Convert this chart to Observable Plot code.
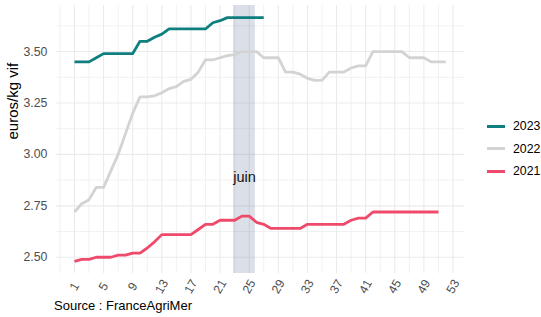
<!DOCTYPE html>
<html>
<head>
<meta charset="utf-8">
<script src="https://cdn.jsdelivr.net/npm/d3@7"></script>
<script src="https://cdn.jsdelivr.net/npm/@observablehq/plot@0.6"></script>
<style>
  html, body { margin: 0; padding: 0; background: #fff; }
  #wrap { position: relative; width: 541px; height: 317px; font-family: "Liberation Sans", Arial, sans-serif; }
  #caption { position: absolute; left: 54px; top: 298px; font-size: 13px; line-height: 16px; color: #000; }
  #legend { position: absolute; left: 487px; top: 115px; font-size: 12.3px; color: #000; }
  .item { display: flex; align-items: center; height: 22.5px; }
  .sw { width: 18px; height: 3px; margin-right: 8px; }
</style>
</head>
<body>
<div id="wrap"><div id="chart"></div><div id="legend"></div><div id="caption"></div></div>
<script>
// ---- data ----
const years = ["2023", "2022", "2021"];
const colors = ["#0e7f7e", "#d3d3d3", "#ef4a6b"];
const weeks2023 = [1,2,3,4,5,6,7,8,9,10,11,12,13,14,15,16,17,18,19,20,21,22,23,24,25,26,27];
const values2023 = [3.45,3.45,3.45,3.47,3.49,3.49,3.49,3.49,3.49,3.55,3.55,3.57,3.585,3.61,3.61,3.61,3.61,3.61,3.61,3.64,3.65,3.665,3.665,3.665,3.665,3.665,3.665];
const weeks2022 = [1,2,3,4,5,6,7,8,9,10,11,12,13,14,15,16,17,18,19,20,21,22,23,24,25,26,27,28,29,30,31,32,33,34,35,36,37,38,39,40,41,42,43,44,45,46,47,48,49,50,51,52];
const values2022 = [2.72,2.76,2.78,2.84,2.84,2.92,3.00,3.10,3.20,3.28,3.28,3.285,3.30,3.32,3.33,3.355,3.365,3.40,3.46,3.46,3.47,3.48,3.485,3.50,3.50,3.50,3.47,3.47,3.47,3.40,3.40,3.39,3.37,3.36,3.36,3.40,3.40,3.40,3.42,3.43,3.43,3.50,3.50,3.50,3.50,3.50,3.47,3.47,3.47,3.45,3.45,3.45];
const weeks2021 = [1,2,3,4,5,6,7,8,9,10,11,12,13,14,15,16,17,18,19,20,21,22,23,24,25,26,27,28,29,30,31,32,33,34,35,36,37,38,39,40,41,42,43,44,45,46,47,48,49,50,51];
const values2021 = [2.48,2.49,2.49,2.50,2.50,2.50,2.51,2.51,2.52,2.52,2.545,2.575,2.61,2.61,2.61,2.61,2.61,2.635,2.66,2.66,2.68,2.68,2.68,2.70,2.70,2.67,2.66,2.64,2.64,2.64,2.64,2.64,2.66,2.66,2.66,2.66,2.66,2.66,2.68,2.69,2.69,2.72,2.72,2.72,2.72,2.72,2.72,2.72,2.72,2.72,2.72];
const xTicks = [1,5,9,13,17,21,25,29,33,37,41,45,49,53];
const xMinor = [-1,3,7,11,15,19,23,27,31,35,39,43,47,51];
const yTicks = [2.50,2.75,3.00,3.25,3.50];
const yMinor = [2.625,2.875,3.125,3.375,3.625];
const band = [{start: 22.85, end: 25.85, label: "juin", y: 2.89}];
const yLabel = "euros/kg vif";
const caption = "Source : FranceAgriMer";

// ---- table ----
const rows = [];
[[weeks2023, values2023, "2023"], [weeks2022, values2022, "2022"], [weeks2021, values2021, "2021"]]
  .forEach(([w, v, y]) => w.forEach((wk, i) => rows.push({week: wk, value: v[i], year: y})));

const grid = "#ebebeb";
const chart = Plot.plot({
  width: 541, height: 300,
  marginLeft: 55.4, marginRight: 77.2, marginTop: 5, marginBottom: 27,
  x: {domain: [-1.55, 54.55]},
  y: {domain: [2.421, 3.724]},
  color: {domain: years, range: colors},
  style: {fontFamily: "'Liberation Sans', Arial, sans-serif", background: "#fff", overflow: "visible"},
  marks: [
    Plot.gridX(xMinor, {stroke: grid, strokeOpacity: 1, strokeWidth: 0.7}),
    Plot.gridX(xTicks, {stroke: grid, strokeOpacity: 1, strokeWidth: 1.1}),
    Plot.gridY(yMinor, {stroke: grid, strokeOpacity: 1, strokeWidth: 0.7}),
    Plot.gridY(yTicks, {stroke: grid, strokeOpacity: 1, strokeWidth: 1.1}),
    Plot.rect(band, {x1: "start", x2: "end", fill: "#7080a0", fillOpacity: 0.25}),
    Plot.line(rows, {x: "week", y: "value", z: "year", stroke: "year", strokeWidth: 2.8, strokeLinecap: "butt", strokeLinejoin: "round"}),
    Plot.text(band, {x: d => (d.start + d.end) / 2, y: "y", text: "label", fontSize: 14.5, fill: "#111"}),
    Plot.axisX(xTicks, {tickSize: 0, tickRotate: -60, textAnchor: "middle", lineAnchor: "middle", tickPadding: 13, fontSize: 12.3, color: "#4d4d4d", label: null}),
    Plot.axisY(yTicks, {tickSize: 0, tickPadding: 8.5, tickFormat: d => d.toFixed(2), fontSize: 12.3, color: "#4d4d4d", label: null}),
    Plot.text([yLabel], {frameAnchor: "left", text: d => d, rotate: -90, dx: -43, fontSize: 15, fill: "#000"})
  ]
});
document.getElementById("chart").appendChild(chart);

const lg = document.getElementById("legend");
years.forEach((y, i) => {
  const it = document.createElement("div");
  it.className = "item";
  it.innerHTML = `<span class="sw" style="background:${colors[i]}"></span><span>${y}</span>`;
  lg.appendChild(it);
});
document.getElementById("caption").textContent = caption;
</script>
</body>
</html>
